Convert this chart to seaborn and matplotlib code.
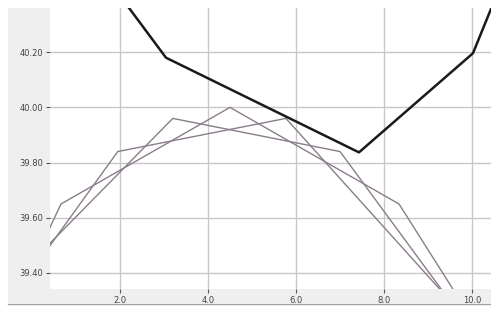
import numpy as np
import pandas as pd
import matplotlib
matplotlib.use("Agg")
import matplotlib.pyplot as plt
import seaborn as sns
from matplotlib.patches import Rectangle
from matplotlib.lines import Line2D
from matplotlib.ticker import FormatStrFormatter

# thick dark curve (runs off the top at both ends)
black_x = [1.6, 3.045, 7.43, 10.02, 11.0]
black_y = [40.49, 40.18, 39.837, 40.196, 40.58]

# three thin curves
a_x = [0.3, 0.66, 4.5, 8.34, 9.73]
a_y = [39.528, 39.65, 40.00, 39.65, 39.30]

b_x = [0.3, 1.95, 5.77, 9.5]
b_y = [39.475, 39.84, 39.96, 39.30]

c_x = [0.3, 3.2, 7.0, 9.49]
c_y = [39.49, 39.96, 39.84, 39.30]

x_ticks = [2.0, 4.0, 6.0, 8.0, 10.0]
y_ticks = [39.40, 39.60, 39.80, 40.00, 40.20]

W, H = 491, 310
fig = plt.figure(figsize=(W / 100, H / 100), dpi=100, facecolor="white")

# grey panel behind the plot + bottom rule
fig.patches.append(Rectangle((8 / W, 1 - 303 / H), 1 - 8 / W, (303 - 8) / H,
                             transform=fig.transFigure, facecolor="#efefef",
                             edgecolor="none", zorder=-10))
fig.lines.append(Line2D([8 / W, 1], [1 - 303.5 / H, 1 - 303.5 / H],
                        transform=fig.transFigure, color="#a0a0a0", lw=1,
                        zorder=-10))

ax = fig.add_axes([50 / W, 1 - 289 / H, (W - 50) / W, (289 - 8) / H])
ax.set_zorder(5)
ax.set_facecolor("white")

thin = "#8a7d8a"
for xs, ys in [(a_x, a_y), (b_x, b_y), (c_x, c_y)]:
    df = pd.DataFrame({"x": xs, "y": ys})
    sns.lineplot(data=df, x="x", y="y", sort=False, estimator=None,
                 color=thin, linewidth=1.0, ax=ax)

df = pd.DataFrame({"x": black_x, "y": black_y})
sns.lineplot(data=df, x="x", y="y", sort=False, estimator=None,
             color="#1a1a1a", linewidth=1.8, ax=ax)

ax.set_xlim(0.41, 10.43)
ax.set_ylim(39.342, 40.36)
ax.set_xticks(x_ticks)
ax.set_yticks(y_ticks)
ax.xaxis.set_major_formatter(FormatStrFormatter("%.1f"))
ax.yaxis.set_major_formatter(FormatStrFormatter("%.2f"))
ax.grid(True, color="#c8c8c8", linewidth=1.0)
ax.set_axisbelow(True)
for s in ax.spines.values():
    s.set_visible(False)
ax.tick_params(axis="both", length=3, width=0.8, color="#555555",
               labelsize=6, labelcolor="#444444", pad=2)
ax.set_xlabel("")
ax.set_ylabel("")

fig.savefig("out.png", dpi=100, facecolor=fig.get_facecolor())
